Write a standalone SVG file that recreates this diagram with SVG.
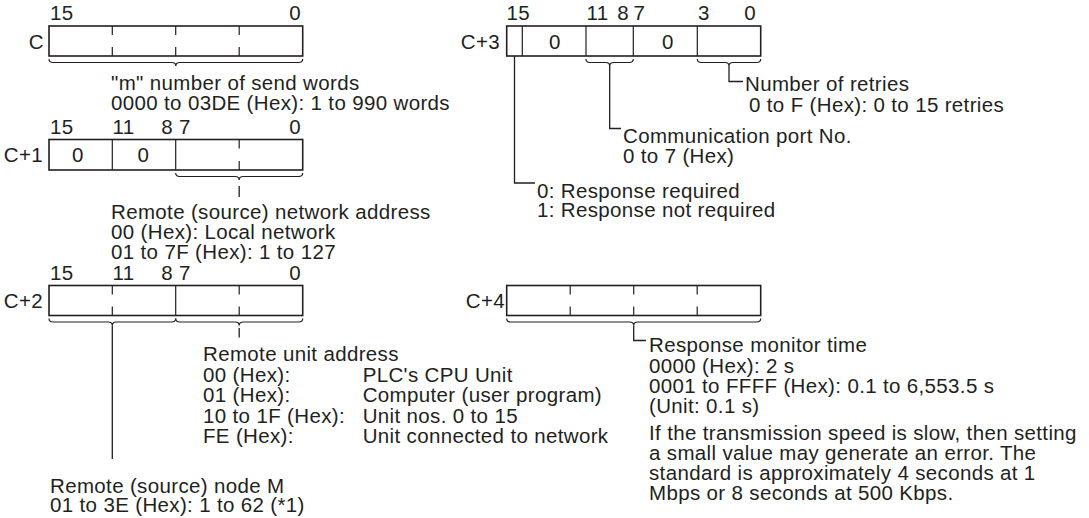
<svg xmlns="http://www.w3.org/2000/svg" width="1089" height="518" viewBox="0 0 1089 518">
<style>
text{font-family:"Liberation Sans",Arial,Helvetica,sans-serif;font-size:20.5px;letter-spacing:0.35px;fill:#231f20}
.e{text-anchor:end}
.m{text-anchor:middle}
.box{fill:none;stroke:#231f20;stroke-width:1.6}
.div{stroke:#231f20;stroke-width:1.2;fill:none}
.br{stroke:#231f20;stroke-width:1.2;fill:none}
.ln{stroke:#231f20;stroke-width:1.3;fill:none}
</style>
<rect width="1089" height="518" fill="#fff"/>

<g id="word-C">
<text x="50" y="20">15</text><text class="e" x="301" y="20">0</text>
<text class="e" x="44" y="48.5">C</text>
<rect class="box" x="49" y="26" width="253.7" height="30"/>
<path class="div" d="M112.3 26v9M112.3 47v9M175.7 26v9M175.7 47v9M239.2 26v9M239.2 47v9"/>
</g>

<g id="word-C1">
<text x="50" y="134">15</text><text x="112.5" y="134">11</text><text class="e" x="173" y="134">8</text><text x="179" y="134">7</text><text class="e" x="301" y="134">0</text>
<text class="e" x="43" y="162">C+1</text>
<rect class="box" x="49" y="139.5" width="253.7" height="30.5"/>
<path class="div" d="M112.3 139.5v30.5M175.7 139.5v30.5M239.2 139.5v9M239.2 161v9"/>
<text class="m" x="78" y="162">0</text><text class="m" x="143.5" y="162">0</text>
</g>

<g id="word-C2">
<text x="50" y="279.5">15</text><text x="112.5" y="279.5">11</text><text class="e" x="173" y="279.5">8</text><text x="179" y="279.5">7</text><text class="e" x="301" y="279.5">0</text>
<text class="e" x="43" y="308">C+2</text>
<rect class="box" x="49" y="285.5" width="253.7" height="30"/>
<path class="div" d="M112.3 285.5v9M112.3 306.5v9M175.7 285.5v30M239.2 285.5v9M239.2 306.5v9"/>
</g>

<g id="word-C3">
<text x="506.5" y="20">15</text><text x="586.5" y="20">11</text><text class="e" x="629" y="20">8</text><text x="633.5" y="20">7</text><text x="698" y="20">3</text><text class="e" x="756" y="20">0</text>
<text class="e" x="500" y="48.5">C+3</text>
<rect class="box" x="506.7" y="26" width="254" height="30"/>
<path class="div" d="M522.3 26v30M586 26v30M633.3 26v30M697.3 26v30"/>
<text class="m" x="555" y="48.5">0</text><text class="m" x="668" y="48.5">0</text>
</g>

<g id="word-C4">
<text class="e" x="505" y="308">C+4</text>
<rect class="box" x="506.7" y="285.5" width="254" height="30"/>
<path class="div" d="M570.2 285.5v9M570.2 306.5v9M633.7 285.5v9M633.7 306.5v9M697.2 285.5v9M697.2 306.5v9"/>
</g>

<g id="connectors">
<path class="br" d="M49 59Q49 62.5 53 62.5L171.8 62.5Q175.8 62.5 175.8 66Q175.8 62.5 179.8 62.5L298.7 62.5Q302.7 62.5 302.7 59"/>
<path class="br" d="M175.7 173Q175.7 176.5 179.7 176.5L235.2 176.5Q239.2 176.5 239.2 180Q239.2 176.5 243.2 176.5L298.7 176.5Q302.7 176.5 302.7 173"/>
<path class="ln" d="M239.2 186V197"/>
<path class="br" d="M49 318.5Q49 322 53 322L108.3 322Q112.3 322 112.3 325.5Q112.3 322 116.3 322L171.7 322Q175.7 322 175.7 318.5"/>
<path class="br" d="M175.7 318.5Q175.7 322 179.7 322L235.2 322Q239.2 322 239.2 325.5Q239.2 322 243.2 322L298.7 322Q302.7 322 302.7 318.5"/>
<path class="ln" d="M112.3 325.5V459"/>
<path class="ln" d="M239.2 328V337.5"/>
<path class="ln" d="M514.5 56V183H535"/>
<path class="br" d="M586 59Q586 62.5 590 62.5L605.7 62.5Q609.7 62.5 609.7 66Q609.7 62.5 613.7 62.5L629.3 62.5Q633.3 62.5 633.3 59"/>
<path class="ln" d="M609.7 66V128.5H621"/>
<path class="br" d="M697.3 59Q697.3 62.5 701.3 62.5L725 62.5Q729 62.5 729 66Q729 62.5 733 62.5L756.7 62.5Q760.7 62.5 760.7 59"/>
<path class="ln" d="M729 66V81.5H743"/>
<path class="br" d="M506.7 318.5Q506.7 322 510.7 322L629.7 322Q633.7 322 633.7 325.5Q633.7 322 637.7 322L756.7 322Q760.7 322 760.7 318.5"/>
<path class="ln" d="M633.7 325.5V340.5H646"/>
</g>

<g id="desc-C">
<text x="111" y="90">"m" number of send words</text>
<text x="111" y="110">0000 to 03DE (Hex): 1 to 990 words</text>
</g>
<g id="desc-C1">
<text x="111" y="219">Remote (source) network address</text>
<text x="111" y="239">00 (Hex): Local network</text>
<text x="111" y="259">01 to 7F (Hex): 1 to 127</text>
</g>
<g id="desc-C2-unit">
<text x="203" y="361">Remote unit address</text>
<text x="203" y="381.5">00 (Hex):</text><text x="362.7" y="381.5">PLC's CPU Unit</text>
<text x="203" y="402">01 (Hex):</text><text x="362.7" y="402">Computer (user program)</text>
<text x="203" y="422.5">10 to 1F (Hex):</text><text x="362.7" y="422.5">Unit nos. 0 to 15</text>
<text x="203" y="443">FE (Hex):</text><text x="362.7" y="443">Unit connected to network</text>
</g>
<g id="desc-C2-node">
<text x="50" y="493">Remote (source) node M</text>
<text x="50" y="512">01 to 3E (Hex): 1 to 62 (*1)</text>
</g>
<g id="desc-C3-retries">
<text x="745" y="91">Number of retries</text>
<text x="749" y="111.5">0 to F (Hex): 0 to 15 retries</text>
</g>
<g id="desc-C3-port">
<text x="623" y="143">Communication port No.</text>
<text x="623" y="163">0 to 7 (Hex)</text>
</g>
<g id="desc-C3-response">
<text x="537" y="198">0: Response required</text>
<text x="537" y="217">1: Response not required</text>
</g>
<g id="desc-C4">
<text x="649" y="352">Response monitor time</text>
<text x="649" y="372.5">0000 (Hex): 2 s</text>
<text x="649" y="393">0001 to FFFF (Hex): 0.1 to 6,553.5 s</text>
<text x="649" y="413">(Unit: 0.1 s)</text>
<text x="649" y="440">If the transmission speed is slow, then setting</text>
<text x="649" y="460">a small value may generate an error. The</text>
<text x="649" y="480">standard is approximately 4 seconds at 1</text>
<text x="649" y="500">Mbps or 8 seconds at 500 Kbps.</text>
</g>
</svg>
